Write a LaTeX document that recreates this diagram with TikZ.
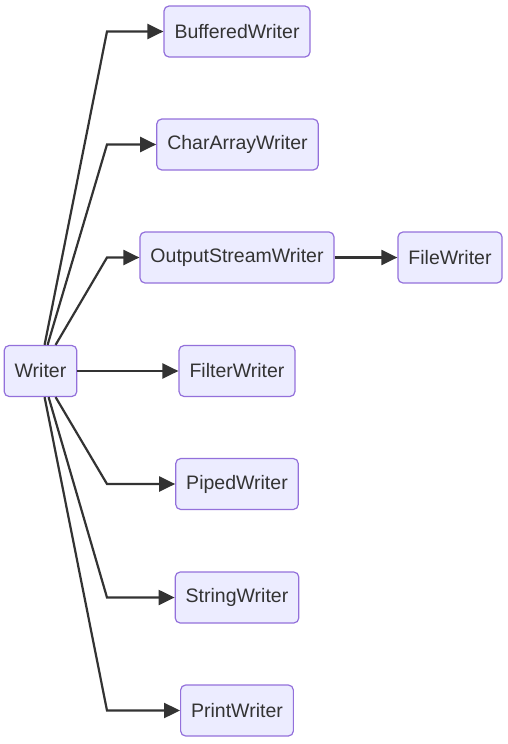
\documentclass[tikz,border=0pt]{standalone}
\usepackage{fontspec}
\setmainfont{Liberation Sans}
\usetikzlibrary{arrows.meta}
\definecolor{nodefill}{HTML}{ECECFF}
\definecolor{nodeline}{HTML}{9370DB}
\definecolor{edge}{HTML}{333333}
\tikzset{
  box/.style={draw=nodeline, line width=1.2pt, fill=nodefill, rounded corners=5pt,
    minimum height=51pt, inner xsep=10.5pt, text=edge,
    font=\fontsize{19.5pt}{23pt}\selectfont},
  arr/.style={draw=edge, line width=2.2pt, -{Triangle[length=16pt,width=15pt]}}
}
\begin{document}
\begin{tikzpicture}[x=1pt,y=-1pt]
\useasboundingbox (0,0) rectangle (508,744);
\node[box] (w) at (40.5,371) {Writer};
\node[box] (b) at (237,31.5) {BufferedWriter};
\node[box] (c) at (237.5,144.5) {CharArrayWriter};
\node[box] (o) at (237,257.5) {OutputStreamWriter};
\node[box] (f) at (450,257.5) {FileWriter};
\node[box] (fi) at (237,371) {FilterWriter};
\node[box] (p) at (237,484) {PipedWriter};
\node[box] (s) at (237,597.5) {StringWriter};
\node[box] (pr) at (237,710.5) {PrintWriter};
\coordinate (bx) at (107,0);
\draw[arr] ([xshift=41pt]w.north west) -- (b.west -| bx) -- (b.west);
\draw[arr] ([xshift=44pt]w.north west) -- (c.west -| bx) -- (c.west);
\draw[arr] ([xshift=52pt]w.north west) -- (o.west -| bx) -- (o.west);
\draw[arr] (o.east) -- (f.west);
\draw[arr] (w.east) -- (fi.west);
\draw[arr] ([xshift=52pt]w.south west) -- (p.west -| bx) -- (p.west);
\draw[arr] ([xshift=45pt]w.south west) -- (s.west -| bx) -- (s.west);
\draw[arr] ([xshift=41pt]w.south west) -- (pr.west -| bx) -- (pr.west);
\end{tikzpicture}
\end{document}
